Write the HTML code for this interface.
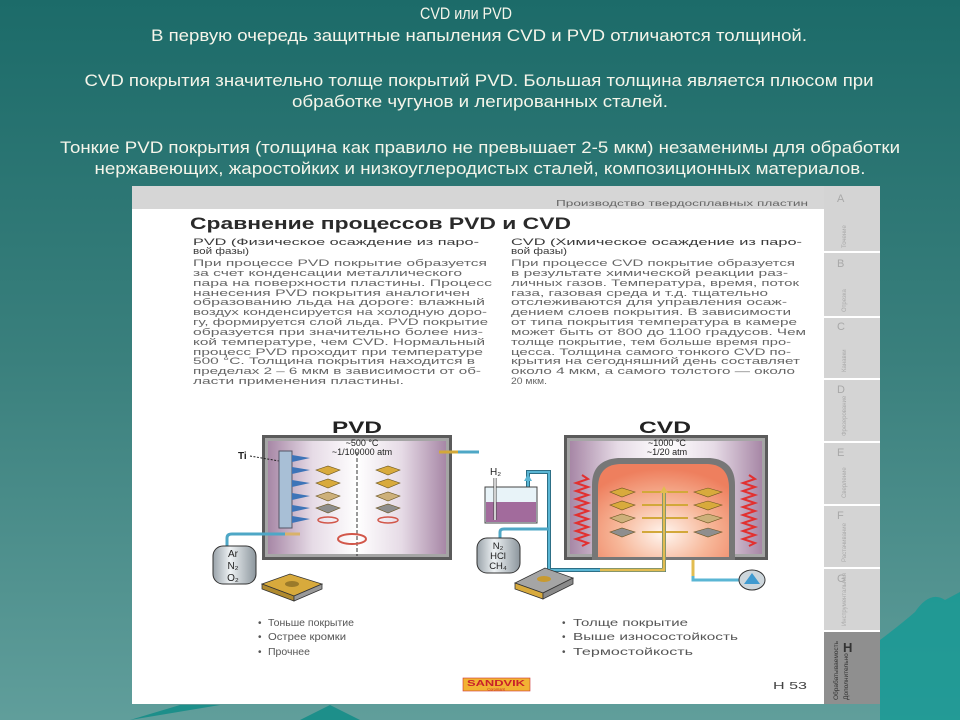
<!DOCTYPE html>
<html><head><meta charset="utf-8"><style>
html,body{margin:0;padding:0;width:960px;height:720px;overflow:hidden}
svg{display:block}
</style></head><body>
<svg width="960" height="720" viewBox="0 0 960 720" xmlns="http://www.w3.org/2000/svg" font-family="Liberation Sans, sans-serif">
<defs>
<linearGradient id="bg" x1="0" y1="0" x2="0" y2="1">
<stop offset="0" stop-color="#1c6b69"/><stop offset="0.5" stop-color="#3a807d"/><stop offset="1" stop-color="#609e9b"/>
</linearGradient>
<linearGradient id="lav" x1="0" y1="0" x2="1" y2="0">
<stop offset="0" stop-color="#a787a6"/><stop offset="0.25" stop-color="#e6dbe6"/><stop offset="0.5" stop-color="#ffffff"/><stop offset="0.75" stop-color="#e6dbe6"/><stop offset="1" stop-color="#a787a6"/>
</linearGradient>
<radialGradient id="sal" cx="0.5" cy="0.75" r="0.7">
<stop offset="0" stop-color="#fff6f0"/><stop offset="0.5" stop-color="#f7b89a"/><stop offset="1" stop-color="#ee7f5e"/>
</radialGradient>
<linearGradient id="tank" x1="0" y1="0" x2="1" y2="0">
<stop offset="0" stop-color="#9aa3aa"/><stop offset="0.4" stop-color="#eef2f4"/><stop offset="1" stop-color="#8c969d"/>
</linearGradient>
</defs>
<rect width="960" height="720" fill="url(#bg)"/>
<path d="M880 640 Q900 625 915 612 Q930 590 945 600 L960 592 L960 720 L880 720Z" fill="#149a95" opacity="0.8"/>
<path d="M130 720 L180 705 L220 705 Z M300 720 L330 705 L360 720Z" fill="#1d8f8a"/>
<g fill="#f5f5ea" font-size="17" text-anchor="middle">
<text x="466" y="19" textLength="92" lengthAdjust="spacingAndGlyphs">CVD или PVD</text>
<text x="479" y="41" textLength="656" lengthAdjust="spacingAndGlyphs">В первую очередь защитные напыления CVD и PVD отличаются толщиной.</text>
<text x="479" y="86" textLength="789" lengthAdjust="spacingAndGlyphs">CVD покрытия значительно толще покрытий PVD. Большая толщина является плюсом при</text>
<text x="480" y="107" textLength="376" lengthAdjust="spacingAndGlyphs">обработке чугунов и легированных сталей.</text>
<text x="480" y="153" textLength="840" lengthAdjust="spacingAndGlyphs">Тонкие PVD покрытия (толщина как правило не превышает 2-5 мкм) незаменимы для обработки</text>
<text x="480" y="174" textLength="771" lengthAdjust="spacingAndGlyphs">нержавеющих, жаростойких и низкоуглеродистых сталей, композиционных материалов.</text>
</g>
<!-- panel -->
<rect x="132" y="186" width="748" height="518" fill="#ffffff"/>
<rect x="132" y="186" width="692" height="23" fill="#d6d6d6"/>
<text x="556" y="206" font-size="8" fill="#666" textLength="252" lengthAdjust="spacingAndGlyphs">Производство твердосплавных пластин</text>
<text x="190" y="229" font-size="17" font-weight="bold" fill="#2a2a2a" textLength="381" lengthAdjust="spacingAndGlyphs">Сравнение процессов PVD и CVD</text>
<g font-size="9.5" fill="#3a3a3a">
<text x="193" y="245" textLength="286" lengthAdjust="spacingAndGlyphs">PVD (Физическое осаждение из паро-</text>
<text x="193" y="254" textLength="56" lengthAdjust="spacingAndGlyphs">вой фазы)</text>
<text x="511" y="245" textLength="291" lengthAdjust="spacingAndGlyphs">CVD (Химическое осаждение из паро-</text>
<text x="511" y="254" textLength="56" lengthAdjust="spacingAndGlyphs">вой фазы)</text>
</g>
<g font-size="9.5" fill="#666">
<text x="193" y="266" textLength="294" lengthAdjust="spacingAndGlyphs">При процессе PVD покрытие образуется</text>
<text x="193" y="276" textLength="269" lengthAdjust="spacingAndGlyphs">за счет конденсации металлического</text>
<text x="193" y="286" textLength="299" lengthAdjust="spacingAndGlyphs">пара на поверхности пластины. Процесс</text>
<text x="193" y="296" textLength="277" lengthAdjust="spacingAndGlyphs">нанесения PVD покрытия аналогичен</text>
<text x="193" y="305" textLength="292" lengthAdjust="spacingAndGlyphs">образованию льда на дороге: влажный</text>
<text x="193" y="315" textLength="294" lengthAdjust="spacingAndGlyphs">воздух конденсируется на холодную доро-</text>
<text x="193" y="325" textLength="295" lengthAdjust="spacingAndGlyphs">гу, формируется слой льда. PVD покрытие</text>
<text x="193" y="335" textLength="290" lengthAdjust="spacingAndGlyphs">образуется при значительно более низ-</text>
<text x="193" y="345" textLength="292" lengthAdjust="spacingAndGlyphs">кой температуре, чем CVD. Нормальный</text>
<text x="193" y="355" textLength="290" lengthAdjust="spacingAndGlyphs">процесс PVD проходит при температуре</text>
<text x="193" y="364" textLength="282" lengthAdjust="spacingAndGlyphs">500 °С. Толщина покрытия находится в</text>
<text x="193" y="374" textLength="288" lengthAdjust="spacingAndGlyphs">пределах 2 – 6 мкм в зависимости от об-</text>
<text x="193" y="384" textLength="211" lengthAdjust="spacingAndGlyphs">ласти применения пластины.</text>
<text x="511" y="266" textLength="284" lengthAdjust="spacingAndGlyphs">При процессе CVD покрытие образуется</text>
<text x="511" y="276" textLength="277" lengthAdjust="spacingAndGlyphs">в результате химической реакции раз-</text>
<text x="511" y="286" textLength="288" lengthAdjust="spacingAndGlyphs">личных газов. Температура, время, поток</text>
<text x="511" y="296" textLength="257" lengthAdjust="spacingAndGlyphs">газа, газовая среда и т.д. тщательно</text>
<text x="511" y="305" textLength="276" lengthAdjust="spacingAndGlyphs">отслеживаются для управления осаж-</text>
<text x="511" y="315" textLength="280" lengthAdjust="spacingAndGlyphs">дением слоев покрытия. В зависимости</text>
<text x="511" y="325" textLength="286" lengthAdjust="spacingAndGlyphs">от типа покрытия температура в камере</text>
<text x="511" y="335" textLength="295" lengthAdjust="spacingAndGlyphs">может быть от 800 до 1100 градусов. Чем</text>
<text x="511" y="345" textLength="280" lengthAdjust="spacingAndGlyphs">толще покрытие, тем больше время про-</text>
<text x="511" y="355" textLength="280" lengthAdjust="spacingAndGlyphs">цесса. Толщина самого тонкого CVD по-</text>
<text x="511" y="364" textLength="289" lengthAdjust="spacingAndGlyphs">крытия на сегодняшний день составляет</text>
<text x="511" y="374" textLength="284" lengthAdjust="spacingAndGlyphs">около 4 мкм, а самого толстого — около</text>
<text x="511" y="384" textLength="36" lengthAdjust="spacingAndGlyphs">20 мкм.</text>
</g>
<!-- labels -->
<text x="357" y="433" font-size="17" font-weight="bold" fill="#222" text-anchor="middle" textLength="50" lengthAdjust="spacingAndGlyphs">PVD</text>
<text x="665" y="433" font-size="17" font-weight="bold" fill="#222" text-anchor="middle" textLength="52" lengthAdjust="spacingAndGlyphs">CVD</text>
<!-- PVD chamber -->
<rect x="262" y="435" width="190" height="125" fill="#5b5b5b"/>
<rect x="265" y="438" width="184" height="119" fill="#a5a5a5"/>
<rect x="268" y="441" width="178" height="113" fill="url(#lav)"/>
<g font-size="9" fill="#222" text-anchor="middle">
<text x="362" y="446">~500 °C</text>
<text x="362" y="455">~1/100000 atm</text>
</g>
<text x="238" y="459" font-size="10" font-weight="bold" fill="#222">Ti</text>
<line x1="250" y1="456" x2="285" y2="462" stroke="#222" stroke-dasharray="2,1.5"/>
<rect x="279" y="451" width="13" height="77" fill="#a8bfd6" stroke="#556" stroke-width="1"/>
<g fill="#3d74b8">
<polygon points="292,455 310,458 292,462"/><polygon points="292,467 310,470 292,474"/><polygon points="292,480 310,483 292,487"/><polygon points="292,493 310,496 292,500"/><polygon points="292,505 310,508 292,512"/><polygon points="292,516 310,519 292,523"/>
</g>
<line x1="357" y1="452" x2="357" y2="556" stroke="#333" stroke-dasharray="4,2"/>
<g stroke="#6b5520" stroke-width="0.6">
<polygon points="316,470 328,466 340,470 328,475" fill="#d8aa3c"/><polygon points="376,470 388,466 400,470 388,475" fill="#d8aa3c"/>
<polygon points="316,483 328,479 340,483 328,488" fill="#d8aa3c"/><polygon points="376,483 388,479 400,483 388,488" fill="#d8aa3c"/>
<polygon points="316,496 328,492 340,496 328,501" fill="#cdb07a"/><polygon points="376,496 388,492 400,496 388,501" fill="#cdb07a"/>
<polygon points="316,508 328,504 340,508 328,513" fill="#8e8e8e"/><polygon points="376,508 388,504 400,508 388,513" fill="#8e8e8e"/>
</g>
<ellipse cx="328" cy="520" rx="10" ry="3" fill="none" stroke="#d2574a" stroke-width="1.5"/>
<ellipse cx="388" cy="520" rx="10" ry="3" fill="none" stroke="#d2574a" stroke-width="1.5"/>
<ellipse cx="352" cy="539" rx="14" ry="5" fill="none" stroke="#d2574a" stroke-width="2"/>
<!-- outlet -->
<line x1="439" y1="452" x2="458" y2="452" stroke="#d2a83a" stroke-width="3"/>
<line x1="458" y1="452" x2="479" y2="452" stroke="#4ea7c6" stroke-width="3"/>
<!-- gas tank left -->
<path d="M227 547 L227 538 Q227 534 232 534 L285 534" fill="none" stroke="#4ea7c6" stroke-width="3"/>
<line x1="285" y1="534" x2="300" y2="534" stroke="#d9b26a" stroke-width="3"/>
<rect x="213" y="546" width="43" height="38" rx="10" fill="url(#tank)" stroke="#333"/>
<g font-size="10" fill="#222" text-anchor="middle"><text x="233" y="557">Ar</text><text x="233" y="569">N₂</text><text x="233" y="581">O₂</text></g>
<!-- insert left -->
<polygon points="262,584 290,574 322,584 294,596" fill="#d8aa3c" stroke="#333" stroke-width="0.8"/>
<polygon points="262,584 294,596 294,601 262,589" fill="#b08a2e" stroke="#333" stroke-width="0.8"/>
<polygon points="294,596 322,584 322,589 294,601" fill="#999" stroke="#333" stroke-width="0.8"/>
<ellipse cx="292" cy="584" rx="7" ry="3" fill="#9a7a2a"/>
<!-- CVD chamber -->
<rect x="564" y="435" width="204" height="125" fill="#5b5b5b"/>
<rect x="567" y="438" width="198" height="119" fill="#a5a5a5"/>
<rect x="570" y="441" width="192" height="113" fill="url(#lav)"/>
<g font-size="9" fill="#222" text-anchor="middle"><text x="667" y="446">~1000 °C</text><text x="667" y="455">~1/20 atm</text></g>
<path d="M592 560 L592 485 Q592 460 618 458 L710 458 Q735 460 735 485 L735 560Z" fill="#777"/>
<path d="M598 557 L598 488 Q598 465 620 464 L708 464 Q729 465 729 488 L729 557Z" fill="url(#sal)"/>
<polyline points="582,475 588,479 576,483 588,487 576,491 588,495 576,499 588,503 576,507 588,511 576,515 588,519 576,523 588,527 576,531 588,535 576,539 588,543 582,546" fill="none" stroke="#e23030" stroke-width="2"/>
<polyline points="749,475 755,479 743,483 755,487 743,491 755,495 743,499 755,503 743,507 755,511 743,515 755,519 743,523 755,527 743,531 755,535 743,539 755,543 749,546" fill="none" stroke="#e23030" stroke-width="2"/>
<g stroke="#6b5520" stroke-width="0.6">
<polygon points="610,492 622,488 635,492 622,497" fill="#d8aa3c"/><polygon points="694,492 708,488 722,492 708,497" fill="#d8aa3c"/>
<polygon points="610,505 622,501 635,505 622,510" fill="#d8aa3c"/><polygon points="694,505 708,501 722,505 708,510" fill="#d8aa3c"/>
<polygon points="610,518 622,514 635,518 622,523" fill="#cdb07a"/><polygon points="694,518 708,514 722,518 708,523" fill="#cdb07a"/>
<polygon points="610,532 622,528 635,532 622,537" fill="#8e8e8e"/><polygon points="694,532 708,528 722,532 708,537" fill="#8e8e8e"/>
</g>
<g stroke="#d2a83a" stroke-width="2">
<line x1="642" y1="492" x2="688" y2="492"/><line x1="642" y1="505" x2="688" y2="505"/><line x1="642" y1="518" x2="688" y2="518"/><line x1="642" y1="532" x2="688" y2="532"/>
</g>
<!-- pipes CVD -->
<path d="M528 488 L528 472 L549 472 L549 570 L664 570 L664 490" fill="none" stroke="#2d6f86" stroke-width="4"/>
<path d="M528 488 L528 472 L549 472 L549 570 L600 570" fill="none" stroke="#5ab6d4" stroke-width="2"/>
<path d="M600 570 L664 570 L664 490" fill="none" stroke="#e2bc50" stroke-width="3"/>
<polygon points="660,493 664,486 668,493" fill="#e2bc50"/>
<polygon points="524,481 528,474 532,481" fill="#5ab6d4"/>
<path d="M500 538 L500 532 Q500 529 504 529 L549 529" fill="none" stroke="#4ea7c6" stroke-width="3"/>
<!-- flask -->
<rect x="485" y="487" width="52" height="36" fill="#e8f3f8" stroke="#444"/>
<rect x="486" y="502" width="50" height="20" fill="#a26b9c"/>
<line x1="495" y1="478" x2="495" y2="520" stroke="#444" stroke-width="3"/>
<line x1="495" y1="478" x2="495" y2="520" stroke="#fff" stroke-width="1.5"/>
<text x="490" y="475" font-size="10" fill="#222">H₂</text>
<!-- tank right -->
<rect x="477" y="538" width="43" height="35" rx="10" fill="url(#tank)" stroke="#333"/>
<g font-size="9.5" fill="#222" text-anchor="middle"><text x="498" y="549">N₂</text><text x="498" y="559">HCl</text><text x="498" y="569">CH₄</text></g>
<!-- outlet and pump -->
<line x1="693" y1="560" x2="693" y2="576" stroke="#e2bc50" stroke-width="3"/>
<path d="M693 576 L693 580 L740 580" fill="none" stroke="#5ab6d4" stroke-width="3"/>
<ellipse cx="752" cy="580" rx="13" ry="10" fill="#cdd6dc" stroke="#333"/>
<polygon points="744,584 752,573 760,584" fill="#3f9ad0"/>
<!-- insert right -->
<polygon points="515,583 545,568 573,578 543,593" fill="#a5a5a5" stroke="#333" stroke-width="0.8"/>
<polygon points="515,583 543,593 543,599 515,589" fill="#d8aa3c" stroke="#333" stroke-width="0.8"/>
<polygon points="543,593 573,578 573,584 543,599" fill="#8a8a8a" stroke="#333" stroke-width="0.8"/>
<ellipse cx="544" cy="579" rx="7" ry="3" fill="#c89a30"/>
<!-- bullets -->
<g font-size="10" fill="#555">
<text x="258" y="626">•</text><text x="268" y="626" textLength="86" lengthAdjust="spacingAndGlyphs">Тоньше покрытие</text>
<text x="258" y="640">•</text><text x="268" y="640" textLength="78" lengthAdjust="spacingAndGlyphs">Острее кромки</text>
<text x="258" y="655">•</text><text x="268" y="655" textLength="42" lengthAdjust="spacingAndGlyphs">Прочнее</text>
<text x="562" y="626">•</text><text x="573" y="626" textLength="115" lengthAdjust="spacingAndGlyphs">Толще покрытие</text>
<text x="562" y="640">•</text><text x="573" y="640" textLength="165" lengthAdjust="spacingAndGlyphs">Выше износостойкость</text>
<text x="562" y="655">•</text><text x="573" y="655" textLength="120" lengthAdjust="spacingAndGlyphs">Термостойкость</text>
</g>
<!-- logo -->
<rect x="463" y="678" width="67" height="13" fill="#f2b233" stroke="#c33" stroke-width="0.6"/>
<text x="496" y="686" font-size="8" font-weight="bold" fill="#c8202a" text-anchor="middle" textLength="58" lengthAdjust="spacingAndGlyphs">SANDVIK</text>
<text x="496" y="690.5" font-size="4" fill="#c8202a" text-anchor="middle">Coromant</text>
<text x="773" y="689" font-size="10" fill="#444" textLength="34" lengthAdjust="spacingAndGlyphs">H 53</text>
<!-- sidebar -->
<g>
<rect x="824" y="186" width="56" height="65" fill="#d4d4d4"/>
<rect x="824" y="253" width="56" height="63" fill="#d4d4d4"/>
<rect x="824" y="318" width="56" height="60" fill="#d4d4d4"/>
<rect x="824" y="380" width="56" height="61" fill="#d4d4d4"/>
<rect x="824" y="443" width="56" height="61" fill="#d4d4d4"/>
<rect x="824" y="506" width="56" height="61" fill="#d4d4d4"/>
<rect x="824" y="569" width="56" height="61" fill="#d4d4d4"/>
<rect x="824" y="632" width="56" height="72" fill="#8f8f8f"/>
</g>
<g font-size="11" fill="#a8a8a8">
<text x="837" y="202">A</text><text x="837" y="267">B</text><text x="837" y="330">C</text><text x="837" y="393">D</text><text x="837" y="456">E</text><text x="837" y="519">F</text><text x="837" y="582">G</text>
</g>
<text x="843" y="652" font-size="13" font-weight="bold" fill="#333">H</text>
<g font-size="6" fill="#aaa">
<text transform="translate(846,248) rotate(-90)">Точение</text>
<text transform="translate(846,312) rotate(-90)">Отрезка</text>
<text transform="translate(846,372) rotate(-90)">Канавки</text>
<text transform="translate(846,436) rotate(-90)">Фрезерование</text>
<text transform="translate(846,498) rotate(-90)">Сверление</text>
<text transform="translate(846,562) rotate(-90)">Растачивание</text>
<text transform="translate(846,626) rotate(-90)">Инструментальная</text>
</g>
<g font-size="6.5" fill="#333">
<text transform="translate(838,700) rotate(-90)">Обрабатываемость</text>
<text transform="translate(848,700) rotate(-90)">Дополнительно</text>
</g>
</svg>
</body></html>
